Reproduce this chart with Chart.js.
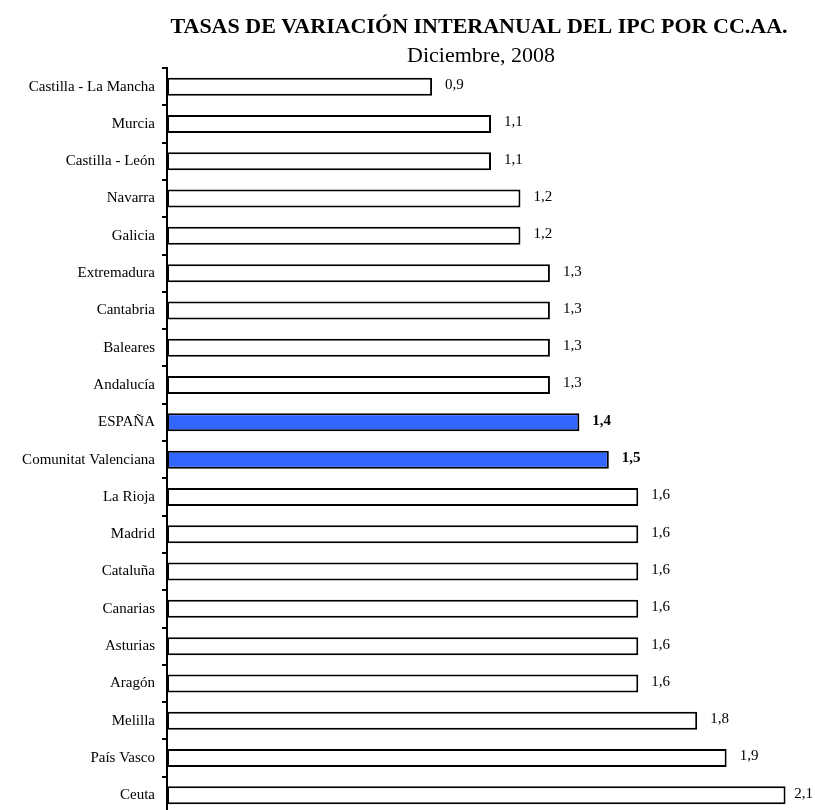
<!DOCTYPE html>
<html>
<head>
<meta charset="utf-8">
<script src="https://cdn.jsdelivr.net/npm/chart.js@4.4.1/dist/chart.umd.min.js"></script>
<style>
html, body { margin: 0; padding: 0; background: #ffffff; overflow: hidden; }
#wrap { position: relative; width: 815px; height: 830px; }
</style>
</head>
<body>
<div id="wrap"><canvas id="c" width="815" height="830" style="width:815px;height:830px"></canvas></div>
<script>
const categories = ["Castilla - La Mancha", "Murcia", "Castilla - León", "Navarra", "Galicia",
  "Extremadura", "Cantabria", "Baleares", "Andalucía", "ESPAÑA", "Comunitat Valenciana",
  "La Rioja", "Madrid", "Cataluña", "Canarias", "Asturias", "Aragón", "Melilla", "País Vasco", "Ceuta"];
const values = [0.9, 1.1, 1.1, 1.2, 1.2, 1.3, 1.3, 1.3, 1.3, 1.4, 1.5,
  1.6, 1.6, 1.6, 1.6, 1.6, 1.6, 1.8, 1.9, 2.1];
const highlighted = ["ESPAÑA", "Comunitat Valenciana"];
const titleText = "TASAS DE VARIACIÓN INTERANUAL DEL IPC POR CC.AA.";
const subtitleText = "Diciembre, 2008";

const BLUE = "rgb(51,102,255)";
const FONT = "'Liberation Serif', 'Times New Roman', serif";

const fillColors = categories.map(c => highlighted.includes(c) ? BLUE : "#ffffff");

const titlesPlugin = {
  id: "titles",
  afterDraw(chart) {
    const ctx = chart.ctx;
    ctx.save();
    ctx.fillStyle = "#000";
    ctx.textAlign = "center";
    ctx.textBaseline = "alphabetic";
    ctx.font = "bold 22px " + FONT;
    ctx.fillText(titleText, 479, 33);
    ctx.font = "22px " + FONT;
    ctx.fillText(subtitleText, 481, 61.5);
    ctx.restore();
  }
};

const valueLabels = {
  id: "valueLabels",
  afterDatasetsDraw(chart) {
    const ctx = chart.ctx;
    const meta = chart.getDatasetMeta(0);
    ctx.save();
    ctx.fillStyle = "#000";
    ctx.textAlign = "left";
    ctx.textBaseline = "middle";
    meta.data.forEach((bar, i) => {
      const bold = highlighted.includes(categories[i]);
      ctx.font = (bold ? "bold " : "") + "15px " + FONT;
      const txt = values[i].toFixed(1).replace(".", ",");
      const w = ctx.measureText(txt).width;
      let x = bar.x + 13;
      if (x + w > chart.width - 2) x = chart.width - 2 - w;
      ctx.fillText(txt, x, bar.y - 1.5);
    });
    ctx.restore();
  }
};

new Chart(document.getElementById("c"), {
  type: "bar",
  data: {
    labels: categories,
    datasets: [{
      data: values,
      backgroundColor: fillColors,
      borderColor: "#000",
      borderWidth: 2,
      borderSkipped: false,
      barPercentage: 0.483,
      categoryPercentage: 1.0
    }]
  },
  options: {
    indexAxis: "y",
    responsive: false,
    maintainAspectRatio: false,
    animation: false,
    devicePixelRatio: 1,
    layout: { padding: { top: 68, right: 0, bottom: 2, left: 0 } },
    plugins: {
      legend: { display: false },
      title: { display: false },
      tooltip: { enabled: false }
    },
    scales: {
      x: {
        display: false,
        min: 0,
        max: 2.2
      },
      y: {
        offset: true,
        afterFit(scale) { scale.width = 167; },
        grid: {
          display: true,
          offset: true,
          drawOnChartArea: false,
          drawTicks: true,
          tickLength: 5,
          color: "#000",
          lineWidth: 2
        },
        border: { display: true, color: "#000", width: 2 },
        ticks: {
          color: "#000",
          padding: 7,
          autoSkip: false,
          font: { family: FONT, size: 15 }
        }
      }
    }
  },
  plugins: [titlesPlugin, valueLabels]
});
</script>
</body>
</html>
